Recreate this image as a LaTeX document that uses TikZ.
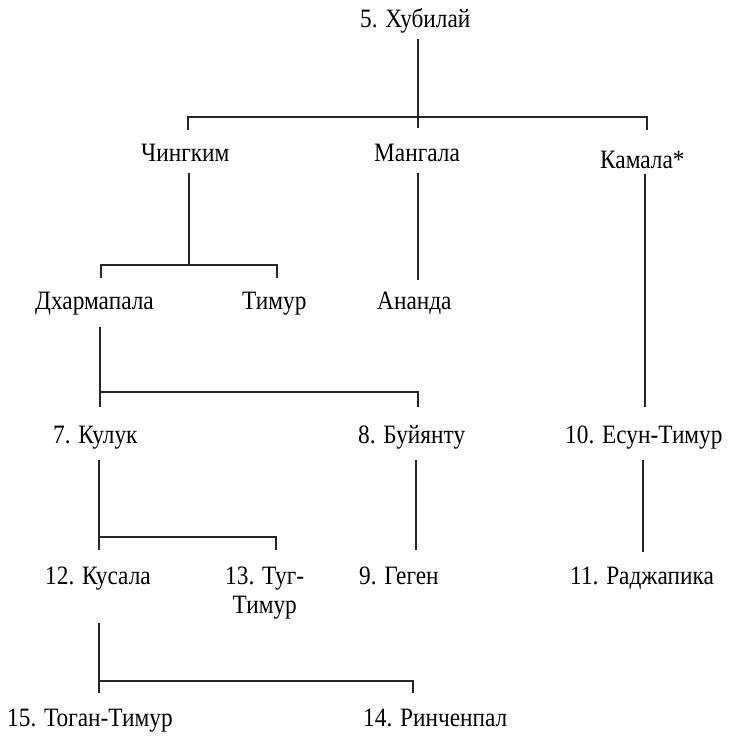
\documentclass[tikz,border=0pt]{standalone}
\usepackage{fontspec}
\setmainfont{Liberation Serif}[FakeStretch=0.88]
\begin{document}
\begin{tikzpicture}[x=1pt,y=-1pt,
  person/.style={anchor=base west,inner sep=0pt,font=\fontsize{26.5}{29}\selectfont},
  link/.style={line width=1.2pt,black!85}]
\useasboundingbox (0,0) rectangle (735,737);
\fill[white] (0,0) rectangle (735,737);
% people
\node[person] (kub) at (360,27) {5. Хубилай};
\node[person] (chi) at (141,161) {Чингким};
\node[person] (man) at (374,161) {Мангала};
\node[person] (kam) at (600,168) {Камала*};
\node[person] (dha) at (35,309) {Дхармапала};
\node[person] (tim) at (242,309) {Тимур};
\node[person] (ana) at (377,309) {Ананда};
\node[person] (kul) at (53,443) {7. Кулук};
\node[person] (buy) at (358,443) {8. Буйянту};
\node[person] (esu) at (565,443) {10. Есун-Тимур};
\node[person] (kus) at (45,584) {12. Кусала};
\node[person] (tug) at (225,584) {\begin{tabular}[t]{@{}c@{}}13. Туг-\\Тимур\end{tabular}};
\node[person] (geg) at (359,584) {9. Геген};
\node[person] (raj) at (570,584) {11. Раджапика};
\node[person] (tog) at (7,726) {15. Тоган-Тимур};
\node[person] (rin) at (363,726) {14. Ринченпал};
% connector points
\coordinate (kubD) at (418,39);   \coordinate (kubM) at (418,117); \coordinate (kubE) at (418,128);
\coordinate (chiU) at (188,130);  \coordinate (chiB) at (188,117);
\coordinate (kamB) at (647,117);  \coordinate (kamU) at (647,130);
\coordinate (chiD) at (189,173);  \coordinate (chiM) at (189,265);
\coordinate (dhaU) at (101,278);  \coordinate (dhaB) at (101,265);
\coordinate (timB) at (277,265);  \coordinate (timU) at (277,278);
\coordinate (manD) at (418,173);  \coordinate (anaU) at (418,280);
\coordinate (kamD) at (645,174);  \coordinate (esuU) at (645,407);
\coordinate (dhaD) at (100,327);  \coordinate (kulU) at (100,407);
\coordinate (dhaM) at (100,392);  \coordinate (buyB) at (418,392); \coordinate (buyU) at (418,407);
\coordinate (kulD) at (99,460);   \coordinate (kusU) at (99,550);
\coordinate (kulM) at (99,537);   \coordinate (tugB) at (276,537); \coordinate (tugU) at (276,550);
\coordinate (buyD) at (416,460);  \coordinate (gegU) at (416,550);
\coordinate (esuD) at (643,460);  \coordinate (rajU) at (643,552);
\coordinate (kusD) at (99,623);   \coordinate (togU) at (99,693);
\coordinate (kusM) at (99,681);   \coordinate (rinB) at (413,681); \coordinate (rinU) at (413,693);
% connectors
\draw[link] (kubD) -- (kubE);
\draw[link] (chiU) -- (chiB) -- (kamB) -- (kamU);
\draw[link] (chiD) -- (chiM);
\draw[link] (dhaU) -- (dhaB) -- (timB) -- (timU);
\draw[link] (manD) -- (anaU);
\draw[link] (kamD) -- (esuU);
\draw[link] (dhaD) -- (kulU);
\draw[link] (dhaM) -- (buyB) -- (buyU);
\draw[link] (kulD) -- (kusU);
\draw[link] (kulM) -- (tugB) -- (tugU);
\draw[link] (buyD) -- (gegU);
\draw[link] (esuD) -- (rajU);
\draw[link] (kusD) -- (togU);
\draw[link] (kusM) -- (rinB) -- (rinU);
\end{tikzpicture}
\end{document}
